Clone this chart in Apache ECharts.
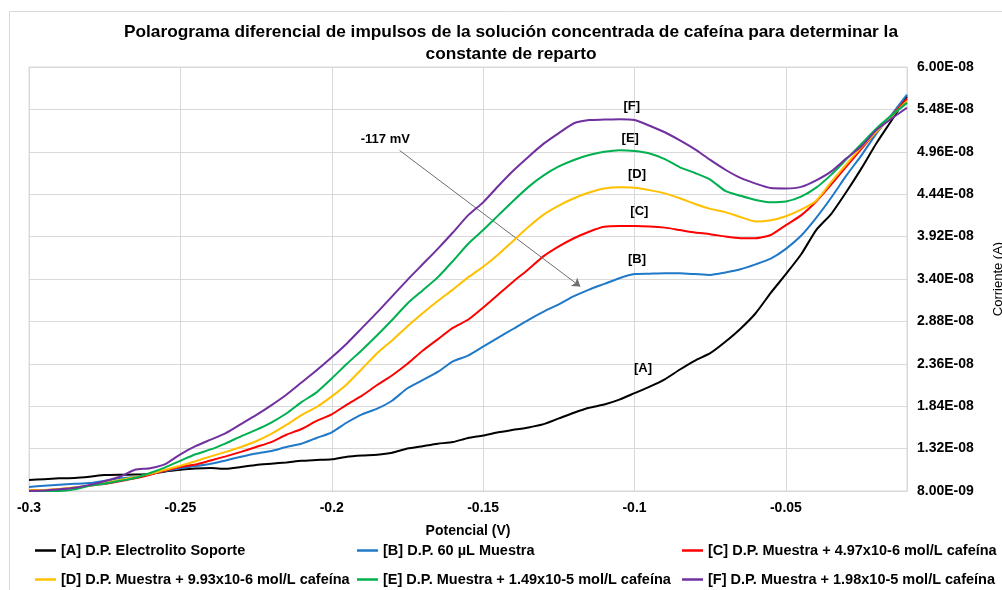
<!DOCTYPE html>
<html>
<head>
<meta charset="utf-8">
<script src="https://cdn.jsdelivr.net/npm/echarts@6/dist/echarts.min.js"></script>
<style>html,body{margin:0;padding:0;background:#fff}#c{width:1002px;height:590px}</style>
</head>
<body>
<div id="c"></div>
<script>
// Potential (V)
const potencial = [-0.300,-0.295,-0.290,-0.285,-0.280,-0.275,-0.270,-0.265,-0.260,-0.255,
  -0.250,-0.245,-0.240,-0.235,-0.230,-0.225,-0.220,-0.215,-0.210,-0.205,
  -0.200,-0.195,-0.190,-0.185,-0.180,-0.175,-0.170,-0.165,-0.160,-0.155,
  -0.150,-0.145,-0.140,-0.135,-0.130,-0.125,-0.120,-0.115,-0.110,-0.105,
  -0.100,-0.095,-0.090,-0.085,-0.080,-0.075,-0.070,-0.065,-0.060,-0.055,
  -0.050,-0.045,-0.040,-0.035,-0.030,-0.025,-0.020,-0.015,-0.010];
// Current values in nA (converted to A when plotted)
const serieA_nA = [9.35,9.45,9.55,9.6,9.75,9.95,10.0,10.02,10.1,10.4,
  10.6,10.75,10.82,10.72,10.95,11.2,11.35,11.5,11.7,11.8,
  11.9,12.2,12.35,12.45,12.7,13.2,13.5,13.8,14.0,14.5,
  14.8,15.2,15.5,15.8,16.2,16.9,17.6,18.2,18.6,19.2,
  20.0,20.8,21.7,22.9,24.0,24.9,26.3,27.9,29.8,32.3,
  34.6,37.0,40.0,42.0,44.7,47.6,50.7,53.5,56.4];
const serieB_nA = [8.5,8.65,8.78,8.88,8.97,9.25,9.55,9.72,10.1,10.45,
  10.78,11.05,11.35,11.75,12.2,12.6,12.9,13.4,13.8,14.5,
  15.2,16.4,17.4,18.1,19.1,20.6,21.6,22.6,23.9,24.6,
  25.7,26.8,27.9,29.0,30.0,30.9,31.9,32.7,33.4,34.1,
  34.6,34.65,34.7,34.7,34.6,34.5,34.8,35.2,35.8,36.5,
  37.7,39.3,41.5,44.0,46.7,49.2,51.9,54.2,56.6];
const serieC_nA = [8.1,8.1,8.2,8.4,8.65,8.88,9.2,9.55,10.0,10.5,
  10.95,11.25,11.75,12.25,12.8,13.4,14.0,14.9,15.6,16.6,
  17.4,18.6,19.7,21.0,22.2,23.6,25.2,26.6,28.0,29.0,
  30.5,32.1,33.7,35.2,36.8,38.0,39.0,39.8,40.4,40.5,
  40.5,40.45,40.3,40.0,39.7,39.5,39.2,39.0,39.0,39.4,
  40.6,41.8,43.5,45.6,47.8,50.0,52.1,54.1,56.1];
const serieD_nA = [8.1,8.12,8.25,8.45,8.65,9.0,9.35,9.7,10.1,10.6,
  11.1,11.65,12.25,12.8,13.4,14.1,15.0,16.1,17.3,18.3,
  19.6,21.1,23.0,24.9,26.5,28.2,29.8,31.3,32.7,34.2,
  35.5,37.0,38.7,40.4,41.9,43.0,43.9,44.6,45.1,45.25,
  45.2,44.9,44.5,43.9,43.2,42.6,42.2,41.6,41.05,41.2,
  41.7,42.5,43.6,45.9,48.1,50.2,52.1,54.0,55.8];
const serieE_nA = [8.0,8.0,8.0,8.2,8.65,8.9,9.25,9.6,10.2,10.9,
  11.7,12.5,13.1,13.85,14.7,15.5,16.4,17.5,18.9,20.1,
  21.8,23.6,25.3,27.1,29.0,31.0,32.6,34.2,36.2,38.3,
  40.0,41.8,43.6,45.3,46.7,47.8,48.6,49.2,49.6,49.8,
  49.7,49.4,48.7,47.7,47.0,46.2,44.8,44.2,43.7,43.4,
  43.5,44.1,45.2,46.8,48.7,50.6,52.5,54.1,55.6];
const serieF_nA = [8.0,8.05,8.2,8.4,8.75,9.2,9.75,10.6,10.8,11.3,
  12.5,13.5,14.3,15.1,16.2,17.3,18.5,19.8,21.3,22.8,
  24.4,26.1,28.0,29.9,31.9,33.9,35.8,37.7,39.7,41.8,
  43.4,45.4,47.3,49.0,50.6,51.9,53.1,53.5,53.55,53.6,
  53.5,52.8,52.0,51.0,49.9,48.6,47.4,46.4,45.7,45.15,
  45.1,45.3,46.1,47.2,48.8,50.3,52.3,53.7,55.0];

const seriesNames = [
  '[A] D.P. Electrolito Soporte',
  '[B] D.P. 60 µL Muestra',
  '[C] D.P. Muestra + 4.97x10-6 mol/L cafeína',
  '[D] D.P. Muestra + 9.93x10-6 mol/L cafeína',
  '[E] D.P. Muestra + 1.49x10-5 mol/L cafeína',
  '[F] D.P. Muestra + 1.98x10-5 mol/L cafeína'
];
const seriesColors = ['#000000','#1F78C8','#FF0000','#FFC000','#00B050','#7030A0'];
const seriesValues = [serieA_nA, serieB_nA, serieC_nA, serieD_nA, serieE_nA, serieF_nA];

const yTicks = [8.00e-9,1.32e-8,1.84e-8,2.36e-8,2.88e-8,3.40e-8,3.92e-8,4.44e-8,4.96e-8,5.48e-8,6.00e-8];

// annotations (data coordinates: V, nA)
const annLabels = ['[A]','[B]','[C]','[D]','[E]','[F]'];
const annX = [-0.0972,-0.0992,-0.0984,-0.0992,-0.1014,-0.1009];
const annY_nA = [23.06,36.35,42.28,46.78,51.29,55.17];
const peakText = '-117 mV';
const peakTextPos = [-0.1823, 51.08];
const arrowFrom = [-0.1776, 49.77];
const arrowTo = [-0.1179, 33.07];

const nA = 1e-9;
const FONT = '"Liberation Sans", Arial, sans-serif';

function fmtExp(v){
  const s = Number(v).toExponential(2);
  const parts = s.split('e');
  const sign = parts[1][0] === '-' ? '-' : '+';
  let d = parts[1].replace(/^[+-]/,'');
  if (d.length < 2) d = '0' + d;
  return parts[0] + 'E' + sign + d;
}

const series = seriesNames.map((name, i) => ({
  name: name,
  type: 'line',
  data: potencial.map((x, k) => [x, seriesValues[i][k] * nA]),
  showSymbol: false,
  smooth: 0.2,
  lineStyle: { color: seriesColors[i], width: 2 },
  itemStyle: { color: seriesColors[i] },
  z: 2 + i
}));

// annotation marks attached to the first series
series[0].markPoint = {
  symbol: 'rect', symbolSize: 1, silent: true,
  itemStyle: { color: 'rgba(0,0,0,0)' },
  label: { show: true, position: 'inside', color: '#000', fontFamily: FONT, fontWeight: 'bold', fontSize: 13, formatter: p => p.name },
  data: annLabels.map((t, i) => ({ name: t, coord: [annX[i], annY_nA[i] * nA] }))
    .concat([{ name: peakText, coord: [peakTextPos[0], peakTextPos[1] * nA] }])
};
series[0].markLine = {
  silent: true, symbol: ['none', 'arrow'], symbolSize: 8,
  lineStyle: { color: '#6E6E6E', width: 1, type: 'solid' },
  label: { show: false },
  data: [[{ coord: [arrowFrom[0], arrowFrom[1] * nA] }, { coord: [arrowTo[0], arrowTo[1] * nA] }]]
};

const legendLeft = [35, 357, 682, 35, 357, 682];
const legendTop = [543, 543, 543, 572, 572, 572];
const legends = seriesNames.map((n, i) => ({
  data: [n], left: legendLeft[i], top: legendTop[i], padding: 0,
  icon: 'rect', itemWidth: 21, itemHeight: 2.5,
  textStyle: { fontFamily: FONT, fontWeight: 'bold', fontSize: 14.5, color: '#000' },
  selectedMode: false
}));

const chart = echarts.init(document.getElementById('c'), null, { renderer: 'canvas' });
chart.setOption({
  animation: false,
  backgroundColor: '#fff',
  title: {
    text: 'Polarograma diferencial de impulsos de la solución concentrada de cafeína para determinar la\nconstante de reparto',
    left: 511, top: 21, textAlign: 'center', padding: 0,
    textStyle: { fontFamily: FONT, fontWeight: 'bold', fontSize: 17.3, lineHeight: 22, color: '#000' }
  },
  graphic: [{
    type: 'rect', shape: { x: 9.5, y: 11.5, width: 1000, height: 600 },
    style: { fill: 'none', stroke: '#D9D9D9', lineWidth: 1 }, silent: true, z: -10
  }],
  legend: legends,
  grid: { left: 29, right: 95, top: 67, bottom: 99, outerBoundsMode: 'none', containLabel: false,
          show: true, borderColor: '#D9D9D9', borderWidth: 1 },
  xAxis: {
    type: 'value', min: -0.3, max: -0.01, interval: 0.05,
    name: 'Potencial (V)', nameLocation: 'middle', nameGap: 33,
    nameTextStyle: { fontFamily: FONT, fontWeight: 'bold', fontSize: 14, color: '#000' },
    axisLine: { show: true, lineStyle: { color: '#D9D9D9' } },
    axisTick: { show: false },
    axisLabel: { showMaxLabel: false, margin: 10, fontFamily: FONT, fontWeight: 'bold', fontSize: 14, color: '#000' },
    splitLine: { show: true, lineStyle: { color: '#D9D9D9', width: 1 } }
  },
  yAxis: {
    type: 'value', position: 'right', min: 8e-9, max: 6e-8,
    name: 'Corriente (A)', nameLocation: 'middle', nameGap: 85, nameRotate: 90,
    nameTextStyle: { fontFamily: FONT, fontSize: 13, color: '#000' },
    axisLine: { show: false },
    axisTick: { show: false, customValues: yTicks },
    axisLabel: { customValues: yTicks, margin: 10, fontFamily: FONT, fontWeight: 'bold', fontSize: 14, color: '#000', formatter: fmtExp },
    splitLine: { show: true, lineStyle: { color: '#D9D9D9', width: 1 } }
  },
  series: series
});
</script>
</body>
</html>
